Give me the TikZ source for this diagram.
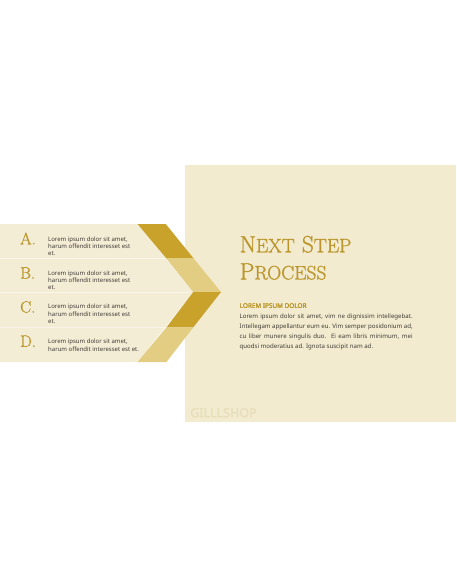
\documentclass[tikz,border=0pt]{standalone}
\usepackage{fontspec}
\newfontfamily\notosans{Noto Sans}
\newfontfamily\notobold{Noto Sans}[FakeBold=2.5]
\newfontfamily\titlefont{Latin Modern Roman}[FakeBold=1.2]
\usetikzlibrary{positioning}

\definecolor{panelcream}{RGB}{243,235,207}
\definecolor{barcream}{RGB}{244,237,214}
\definecolor{barline}{RGB}{249,245,232}
\definecolor{golddark}{RGB}{201,162,44}
\definecolor{goldlight}{RGB}{227,205,131}
\definecolor{goldtext}{RGB}{186,150,44}
\definecolor{bodygray}{RGB}{62,58,52}
\definecolor{watermark}{RGB}{233,222,186}

\newcommand{\smallcap}[1]{{\fontsize{19.5}{19.5}\selectfont #1}}

\tikzset{
  letter/.style={text=goldtext,font=\titlefont\fontsize{16.5}{16.5}\selectfont,anchor=base west,inner sep=0pt},
  itemtext/.style={text=bodygray,font=\notosans\fontsize{6}{7.35}\selectfont,anchor=north west,inner sep=0pt,align=left},
  titletext/.style={text=goldtext,font=\titlefont\fontsize{23.5}{23.5}\selectfont,anchor=base west,inner sep=0pt},
}

\begin{document}
\begin{tikzpicture}[x=1pt,y=-1pt]
\useasboundingbox (0,0) rectangle (456,586);
\fill[white] (0,0) rectangle (456,586);

% big panel
\fill[panelcream] (185,165) rectangle (456,421.5);
\node[anchor=west,inner sep=0pt,text=watermark,font=\notobold\fontsize{12.5}{12.5}\selectfont] (mark) at (190,412.7) {GILLLSHOP};

% list bars
\fill[barcream] (0,224) -- (137.5,224) -- (193.3,292) -- (137.5,362) -- (0,362) -- cycle;
\draw[barline,line width=0.6pt] (0,258.3) -- (190,258.3);
\draw[barline,line width=0.6pt] (0,292.5) -- (190,292.5);
\draw[barline,line width=0.6pt] (0,327.3) -- (190,327.3);

% chevron
\fill[golddark] (137.5,224) -- (165.7,224) -- (193.3,258) -- (166,258) -- cycle;
\fill[goldlight] (166,258) -- (193.3,258) -- (221,292) -- (193.3,292) -- cycle;
\fill[golddark] (193.3,292) -- (221,292) -- (193.3,327.3) -- (166.5,327.3) -- cycle;
\fill[goldlight] (166.5,327.3) -- (193.3,327.3) -- (166.5,362) -- (137.5,362) -- cycle;

\node[letter] (lA) at (20,244.3) {A.};
\node[itemtext] (tA) at (48,236.3) {Lorem ipsum dolor sit amet,\\harum offendit interesset est\\et.};
\node[letter] (lB) at (20,278.6) {B.};
\node[itemtext] (tB) at (48,270.3) {Lorem ipsum dolor sit amet,\\harum offendit interesset est\\et.};
\node[letter] (lC) at (20,312.6) {C.};
\node[itemtext] (tC) at (48,304) {Lorem ipsum dolor sit amet,\\harum offendit interesset est\\et.};
\node[letter] (lD) at (20,346.8) {D.};
\node[itemtext] (tD) at (48,339.2) {Lorem ipsum dolor sit amet,\\harum offendit interesset est et.};

% panel text
\node[titletext] (title1) at (239.5,252.3) {N\smallcap{EXT} S\smallcap{TEP}};
\node[titletext] (title2) at (239.5,279.4) {P\smallcap{ROCESS}};
\node[anchor=base west,inner sep=0pt,text=goldtext,font=\notobold\fontsize{6.4}{6.4}\selectfont] (head) at (239.5,307.9) {LOREM IPSUM DOLOR};
\node[anchor=north west,inner sep=0pt,text=bodygray,text width=173pt,align=justify,font=\notosans\fontsize{6.1}{9.9}\selectfont] (body) at (239.5,313.8)
  {Lorem ipsum dolor sit amet, vim ne dignissim intellegebat.\linebreak Intellegam appellantur eum eu. Vim semper posidonium ad,\linebreak cu liber munere singulis duo. Ei eam libris minimum, mei\linebreak quodsi moderatius ad. Ignota suscipit nam ad.};
\end{tikzpicture}
\end{document}
